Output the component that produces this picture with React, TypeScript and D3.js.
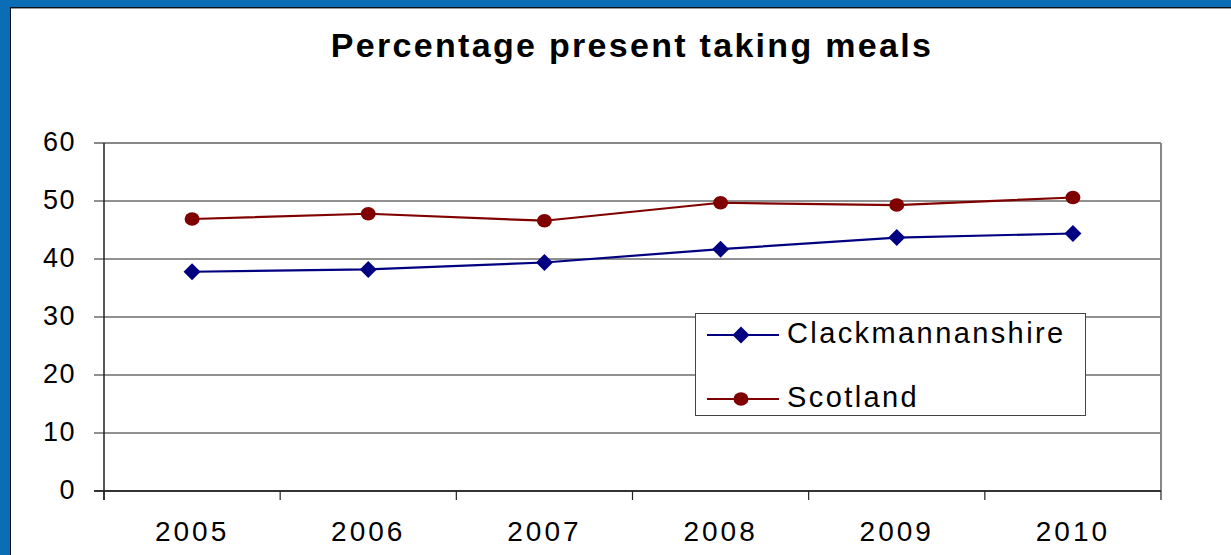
import React from "react";
import * as d3 from "d3";

const years = ["2005", "2006", "2007", "2008", "2009", "2010"];
const clackmannanshire = [37.8, 38.2, 39.4, 41.7, 43.7, 44.4];
const scotland = [46.9, 47.8, 46.6, 49.7, 49.3, 50.6];
const yTicks = [0, 10, 20, 30, 40, 50, 60];
const title = "Percentage present taking meals";

const W = 1231;
const H = 555;
const plot = { left: 104, right: 1161, top: 143, bottom: 491 };

export default function App() {
  const x = d3.scaleBand<string>().domain(years).range([plot.left, plot.right]);
  const y = d3.scaleLinear().domain([0, 60]).range([plot.bottom, plot.top]);
  const cx = (d: string) => (x(d) as number) + x.bandwidth() / 2;
  const line = d3
    .line<number>()
    .x((_, i) => cx(years[i]))
    .y((v) => y(v));
  const font = "'Liberation Sans', Arial, sans-serif";
  const diamond = (px: number, py: number, r = 8.5) =>
    `M${px},${py - r}L${px + r},${py}L${px},${py + r}L${px - r},${py}Z`;
  const boundaries = [...years.map((d) => x(d) as number), plot.right];

  return (
    <svg
      width={W}
      height={H}
      style={{ position: "absolute", left: 0, top: 0, background: "#fff" }}
      fontFamily={font}
    >
      {/* outer blue frame */}
      <rect x={0} y={0} width={W} height={7} fill="#0B6DB6" />
      <rect x={0} y={0} width={10} height={H} fill="#0B6DB6" />
      <line x1={10} x2={W} y1={7.5} y2={7.5} stroke="#111" strokeWidth={1} />
      <line x1={10} x2={W} y1={8.5} y2={8.5} stroke="#999" strokeWidth={1} />
      <line x1={10.5} x2={10.5} y1={7} y2={H} stroke="#111" strokeWidth={1} />

      <text
        x={632}
        y={57}
        textAnchor="middle"
        fontWeight="bold"
        fontSize={34}
        letterSpacing={2.3}
      >
        {title}
      </text>

      {/* gridlines */}
      {yTicks.map((t) => (
        <line
          key={t}
          x1={plot.left - 10}
          x2={plot.right}
          y1={y(t)}
          y2={y(t)}
          stroke={t === 60 ? "#888" : "#222"}
          strokeWidth={t === 60 ? 2 : 1}
        />
      ))}
      {/* right border */}
      <line x1={plot.right} x2={plot.right} y1={plot.top} y2={plot.bottom} stroke="#888" strokeWidth={2} />
      {/* axes */}
      <line x1={plot.left} x2={plot.left} y1={plot.top} y2={plot.bottom + 9} stroke="#222" strokeWidth={1.5} />
      <line x1={plot.left - 10} x2={plot.right} y1={plot.bottom} y2={plot.bottom} stroke="#333" strokeWidth={2} />
      {boundaries.map((b, i) => (
        <line key={i} x1={b} x2={b} y1={plot.bottom} y2={plot.bottom + 9} stroke="#222" strokeWidth={1.2} />
      ))}

      {/* y labels */}
      {yTicks.map((t) => (
        <text
          key={t}
          x={76}
          y={y(t) - 1}
          textAnchor="end"
          dominantBaseline="central"
          fontSize={27}
          letterSpacing={1.5}
        >
          {t}
        </text>
      ))}
      {/* x labels */}
      {years.map((d) => (
        <text key={d} x={cx(d)} y={541} textAnchor="middle" fontSize={28} letterSpacing={3}>
          {d}
        </text>
      ))}

      {/* series */}
      <path d={line(scotland) || ""} fill="none" stroke="#800000" strokeWidth={2.2} />
      <path d={line(clackmannanshire) || ""} fill="none" stroke="#000080" strokeWidth={2.2} />
      {scotland.map((v, i) => (
        <ellipse key={i} cx={cx(years[i])} cy={y(v)} rx={7.5} ry={6.8} fill="#800000" />
      ))}
      {clackmannanshire.map((v, i) => (
        <path key={i} d={diamond(cx(years[i]), y(v))} fill="#000080" />
      ))}

      {/* legend */}
      <rect x={695.5} y={313.5} width={390} height={102} fill="#fff" stroke="#444" strokeWidth={1} />
      <line x1={707} x2={779} y1={335} y2={335} stroke="#000080" strokeWidth={2.2} />
      <path d={diamond(741, 335)} fill="#000080" />
      <text x={787} y={333} dominantBaseline="central" fontSize={29} letterSpacing={2.4}>
        Clackmannanshire
      </text>
      <line x1={707} x2={779} y1={399} y2={399} stroke="#800000" strokeWidth={2.2} />
      <ellipse cx={741} cy={399} rx={7.5} ry={6.8} fill="#800000" />
      <text x={787} y={397} dominantBaseline="central" fontSize={29} letterSpacing={2.4}>
        Scotland
      </text>
    </svg>
  );
}
